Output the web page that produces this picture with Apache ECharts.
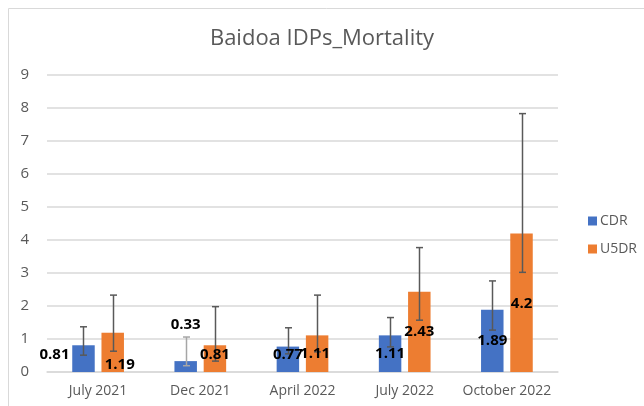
<!DOCTYPE html>
<html>
<head>
<meta charset="utf-8">
<script src="https://cdn.jsdelivr.net/npm/echarts@6/dist/echarts.min.js"></script>
<style>
  html, body { margin: 0; padding: 0; background: #fff; }
  #chart { width: 644px; height: 406px; }
</style>
</head>
<body>
<div id="chart"></div>
<script>
var categories = ['July 2021', 'Dec 2021', 'April 2022', 'July 2022', 'October 2022'];
var cdr = [0.81, 0.33, 0.77, 1.11, 1.89];
var u5dr = [1.19, 0.81, 1.11, 2.43, 4.2];
// error bar ranges [low, high]
var cdrErr = [[0.51, 1.37], [0.19, 1.06], [0.55, 1.34], [0.76, 1.65], [1.27, 2.76]];
var u5drErr = [[0.63, 2.33], [0.33, 1.98], [0.61, 2.33], [1.57, 3.77], [3.02, 7.83]];

// label nudges (px, from bar centre) - excel put a few in odd spots
var cdrLabelOffset = [[-29, -4], [0, -42], [0, -5], [0, 0], [0, 0]];
var u5drLabelOffset = [[7, 12], [0, -4], [-2, 0], [0, 0], [0, 1]];

var BAR_W = 0.22, BAR_GAP = 0.3;

var myChart = echarts.init(document.getElementById('chart'));

function barShift(api, side) {
  var band = api.size([1, 0])[0];
  return side * band * BAR_W * (1 + BAR_GAP) / 2;
}

function errSeries(name, ranges, side) {
  return {
    type: 'custom',
    name: name + ' err',
    z: 3,
    silent: true,
    data: ranges.map(function (r, i) { return [i, r[0], r[1]]; }),
    renderItem: function (params, api) {
      var lo = api.coord([api.value(0), api.value(1)]);
      var hi = api.coord([api.value(0), api.value(2)]);
      var x = Math.round(lo[0] + barShift(api, side)) + 0.5;
      var col = (name === 'CDR' && api.value(0) === 1) ? '#a6a6a6' : '#595959';
      var st = { stroke: col, lineWidth: 1.5 };
      var cap = 3.5;
      return {
        type: 'group',
        children: [
          { type: 'line', shape: { x1: x, y1: lo[1], x2: x, y2: hi[1] }, style: st },
          { type: 'line', shape: { x1: x - cap, y1: lo[1], x2: x + cap, y2: lo[1] }, style: st },
          { type: 'line', shape: { x1: x - cap, y1: hi[1], x2: x + cap, y2: hi[1] }, style: st }
        ]
      };
    }
  };
}

// value labels drawn on top of the error bars
function labelSeries(name, vals, offs, side) {
  return {
    type: 'custom',
    name: name + ' lbl',
    z: 4,
    silent: true,
    data: vals.map(function (v, i) { return [i, v]; }),
    renderItem: function (params, api) {
      var i = api.value(0);
      var top = api.coord([i, api.value(1)]);
      var base = api.coord([i, 0]);
      var off = offs[i];
      return {
        type: 'text',
        x: top[0] + barShift(api, side) + off[0],
        y: (top[1] + base[1]) / 2 + off[1],
        style: {
          text: String(api.value(1)),
          align: 'center',
          verticalAlign: 'middle',
          fill: '#000',
          font: 'bold 15px "Open Sans"'
        }
      };
    }
  };
}

myChart.setOption({
  animation: false,
  textStyle: { fontFamily: 'Open Sans' },
  graphic: [{
    type: 'rect',
    shape: { x: 8.5, y: 8.5, width: 700, height: 500 },
    style: { fill: null, stroke: '#d9d9d9', lineWidth: 1 },
    silent: true
  }],
  title: {
    text: 'Baidoa IDPs_Mortality',
    left: 'center',
    top: 23,
    textStyle: { fontSize: 22, fontWeight: 'normal', color: '#595959', fontFamily: 'Open Sans' }
  },
  legend: {
    orient: 'vertical',
    left: 583,
    top: 209,
    itemWidth: 9,
    itemHeight: 9,
    itemGap: 14,
    icon: 'rect',
    data: ['CDR', 'U5DR'],
    textStyle: { fontSize: 14, color: '#595959', padding: [0, 0, 0, -2] }
  },
  grid: { left: 47, right: 86, top: 75, bottom: 34 },
  xAxis: {
    type: 'category',
    data: categories,
    axisLine: { lineStyle: { color: '#d9d9d9', width: 1.5 } },
    axisTick: { show: false },
    axisLabel: { color: '#595959', fontSize: 14, margin: 12, interval: 0 }
  },
  yAxis: {
    type: 'value',
    min: 0,
    max: 9,
    interval: 1,
    axisLine: { show: false },
    axisTick: { show: false },
    splitLine: { lineStyle: { color: '#d9d9d9', width: 1.5 } },
    axisLabel: { color: '#595959', fontSize: 15, margin: 18 }
  },
  series: [
    {
      name: 'CDR',
      type: 'bar',
      data: cdr,
      barWidth: (BAR_W * 100) + '%',
      barGap: (BAR_GAP * 100) + '%',
      itemStyle: { color: '#4472C4' },
      z: 2
    },
    {
      name: 'U5DR',
      type: 'bar',
      data: u5dr,
      barWidth: (BAR_W * 100) + '%',
      barGap: (BAR_GAP * 100) + '%',
      itemStyle: { color: '#ED7D31' },
      z: 2
    },
    errSeries('CDR', cdrErr, -1),
    errSeries('U5DR', u5drErr, 1),
    labelSeries('CDR', cdr, cdrLabelOffset, -1),
    labelSeries('U5DR', u5dr, u5drLabelOffset, 1)
  ]
});
</script>
</body>
</html>
